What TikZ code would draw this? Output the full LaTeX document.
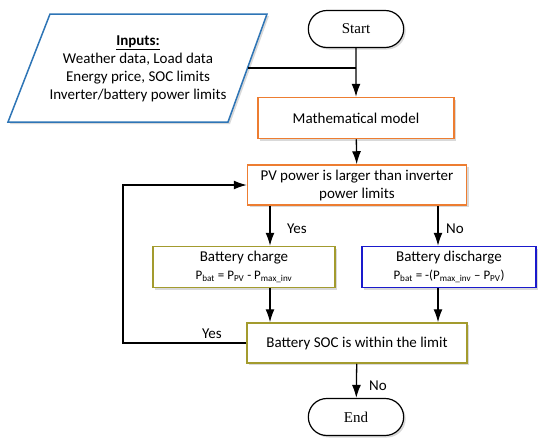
\documentclass[tikz,border=0pt]{standalone}
\usepackage{fontspec}
\setmainfont{Carlito}
\newfontfamily\timesfont{Liberation Serif}
\usetikzlibrary{shapes.misc,shadows,arrows.meta,calc}
\definecolor{inpblue}{HTML}{2E75B6}
\definecolor{boxorange}{HTML}{ED7D31}
\definecolor{boxolive}{HTML}{A39B2E}
\definecolor{boxblue}{HTML}{1A1ACC}

\begin{document}
\begin{tikzpicture}[x=1pt,y=-1pt,
    font=\fontsize{15}{18}\selectfont,
    shade/.style={drop shadow={opacity=0.3,shadow xshift=2pt,shadow yshift=-2pt}},
    box/.style={draw,line width=1.5pt,fill=white,shade,align=center,inner sep=2pt},
    term/.style={draw,rounded rectangle,line width=1.2pt,fill=white,shade,
        minimum width=102pt,minimum height=37pt,font=\timesfont\fontsize{15}{18}\selectfont},
    arr/.style={line width=1.3pt,-{Latex[length=13pt,width=9pt]}},
    lbl/.style={inner sep=0pt}]
    \useasboundingbox (0,0) rectangle (550,448);

    % terminals
    \node[term] (start) at (356,29) {Start};
    \node[term] (end) at (356,417) {End};

    % input data
    \coordinate (p1) at (50,14);
    \coordinate (p2) at (267,14);
    \coordinate (p3) at (228,122);
    \coordinate (p4) at (8,122);
    \draw[draw=inpblue,line width=1.5pt,fill=white,shade] (p1) -- (p2) -- (p3) -- (p4) -- cycle;
    \coordinate (inpout) at ($(p3)!0.5!(p2)$);
    \node[align=center,inner sep=0pt] (inp) at (138,69)
        {\underline{\textbf{Inputs:}}\\Weather data, Load data\\Energy price, SOC limits\\Inverter/battery power limits};

    % process boxes
    \node[box,draw=boxorange,minimum width=196pt,minimum height=41pt] (model) at (356,118) {Mathematical model};
    \node[box,draw=boxorange,minimum width=219pt,minimum height=40pt] (pv) at (357,185)
        {PV power is larger than inverter\\power limits};
    \node[box,draw=boxolive,minimum width=182pt,minimum height=41pt] (charge) at (244,267)
        {Battery charge\\{\fontsize{13}{17}\selectfont P\textsubscript{bat} = P\textsubscript{PV} - P\textsubscript{max\_inv}}};
    \node[box,draw=boxblue,minimum width=174pt,minimum height=41pt] (discharge) at (449,267)
        {Battery discharge\\{\fontsize{13}{17}\selectfont P\textsubscript{bat} = -(P\textsubscript{max\_inv} -- P\textsubscript{PV})}};
    \node[box,draw=boxolive,minimum width=220pt,minimum height=40pt] (soc) at (357,343)
        {Battery SOC is within the limit};

    \coordinate (yx) at (270,0);
    \coordinate (nx) at (438,0);
    \coordinate (loop) at (123,0);

    % connectors
    \draw[line width=1.3pt] (inpout) -- (inpout -| start);
    \draw[arr] (start) -- (model);
    \draw[arr] (model) -- (pv);
    \draw[arr] (yx |- pv.south) -- (yx |- charge.north);
    \draw[arr] (nx |- pv.south) -- (nx |- discharge.north);
    \draw[arr] (yx |- charge.south) -- (yx |- soc.north);
    \draw[arr] (nx |- discharge.south) -- (nx |- soc.north);
    \draw[arr] (soc.west) -- (soc.west -| loop) |- (pv.west);
    \draw[arr] (soc) -- (end);

    % labels
    \node[lbl] (yes1) at (297,229) {Yes};
    \node[lbl] (no1) at (455,229) {No};
    \node[lbl] (yes2) at (212,334) {Yes};
    \node[lbl] (no2) at (378,386) {No};
\end{tikzpicture}
\end{document}
